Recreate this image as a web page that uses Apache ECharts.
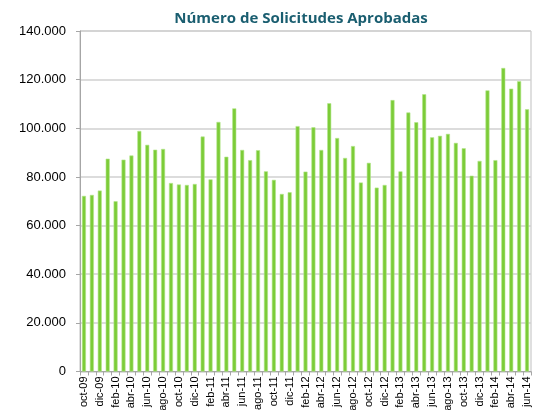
<!DOCTYPE html>
<html><head><meta charset="utf-8">
<script src="https://cdn.jsdelivr.net/npm/echarts@6/dist/echarts.min.js"></script>
<style>html,body{margin:0;padding:0;background:#fff}#c{width:535px;height:410px}</style>
</head><body><div id="c"></div>
<script>
const months = ['oct-09','nov-09','dic-09','ene-10','feb-10','mar-10','abr-10','may-10','jun-10','jul-10','ago-10','sep-10','oct-10','nov-10','dic-10','ene-11','feb-11','mar-11','abr-11','may-11','jun-11','jul-11','ago-11','sep-11','oct-11','nov-11','dic-11','ene-12','feb-12','mar-12','abr-12','may-12','jun-12','jul-12','ago-12','sep-12','oct-12','nov-12','dic-12','ene-13','feb-13','mar-13','abr-13','may-13','jun-13','jul-13','ago-13','sep-13','oct-13','nov-13','dic-13','ene-14','feb-14','mar-14','abr-14','may-14','jun-14'];
const solicitudes = [72200,72600,74400,87500,70000,87100,88800,98900,93200,91200,91500,77500,76900,76700,77100,96600,79000,102600,88300,108200,91100,86900,91000,82300,78800,73000,73700,100900,82200,100400,91100,110300,96000,87800,92700,77700,85800,75600,76700,111600,82300,106500,102500,114000,96300,96900,97700,94000,91800,80500,86600,115600,86900,124800,116300,119400,107800];
const yTicks = [0,20000,40000,60000,80000,100000,120000,140000];
const title = 'Número de Solicitudes Aprobadas';

const chart = echarts.init(document.getElementById('c'));
chart.setOption({
  animation:false,
  title:{text:title,left:296,textAlign:'center',top:6,textStyle:{fontFamily:'Open Sans',fontWeight:'bold',fontSize:15,color:'#1a5e70'}},
  grid:{left:80,right:4,top:31,bottom:38.5,show:true,borderColor:'#bfbfbf',borderWidth:1,containLabel:false,outerBoundsMode:'none'},
  xAxis:{type:'category',data:months,
    axisLine:{lineStyle:{color:'#a6a6a6'}},
    axisTick:{show:true,interval:0,length:4,lineStyle:{color:'#a6a6a6'}},
    axisLabel:{interval:1,rotate:90,fontFamily:'Liberation Sans',fontSize:11,color:'#000',margin:5}},
  yAxis:{type:'value',min:0,max:140000,interval:20000,
    axisLine:{show:true,lineStyle:{color:'#a6a6a6'}},
    axisTick:{show:true,length:4,lineStyle:{color:'#a6a6a6'}},
    splitLine:{lineStyle:{color:'#d0d0d0',width:1.5}},
    axisLabel:{fontFamily:'Liberation Sans',fontSize:13,color:'#000',margin:14,
      formatter:v=>yTicks.includes(v)?(v===0?'0':v.toLocaleString('de-DE').replace(',', '.')):''}},
  series:[{type:'bar',data:solicitudes,barWidth:4,
    itemStyle:{color:'#7ccc38',borderColor:'#b4e58c',borderWidth:0.6}}]
});
</script></body></html>
